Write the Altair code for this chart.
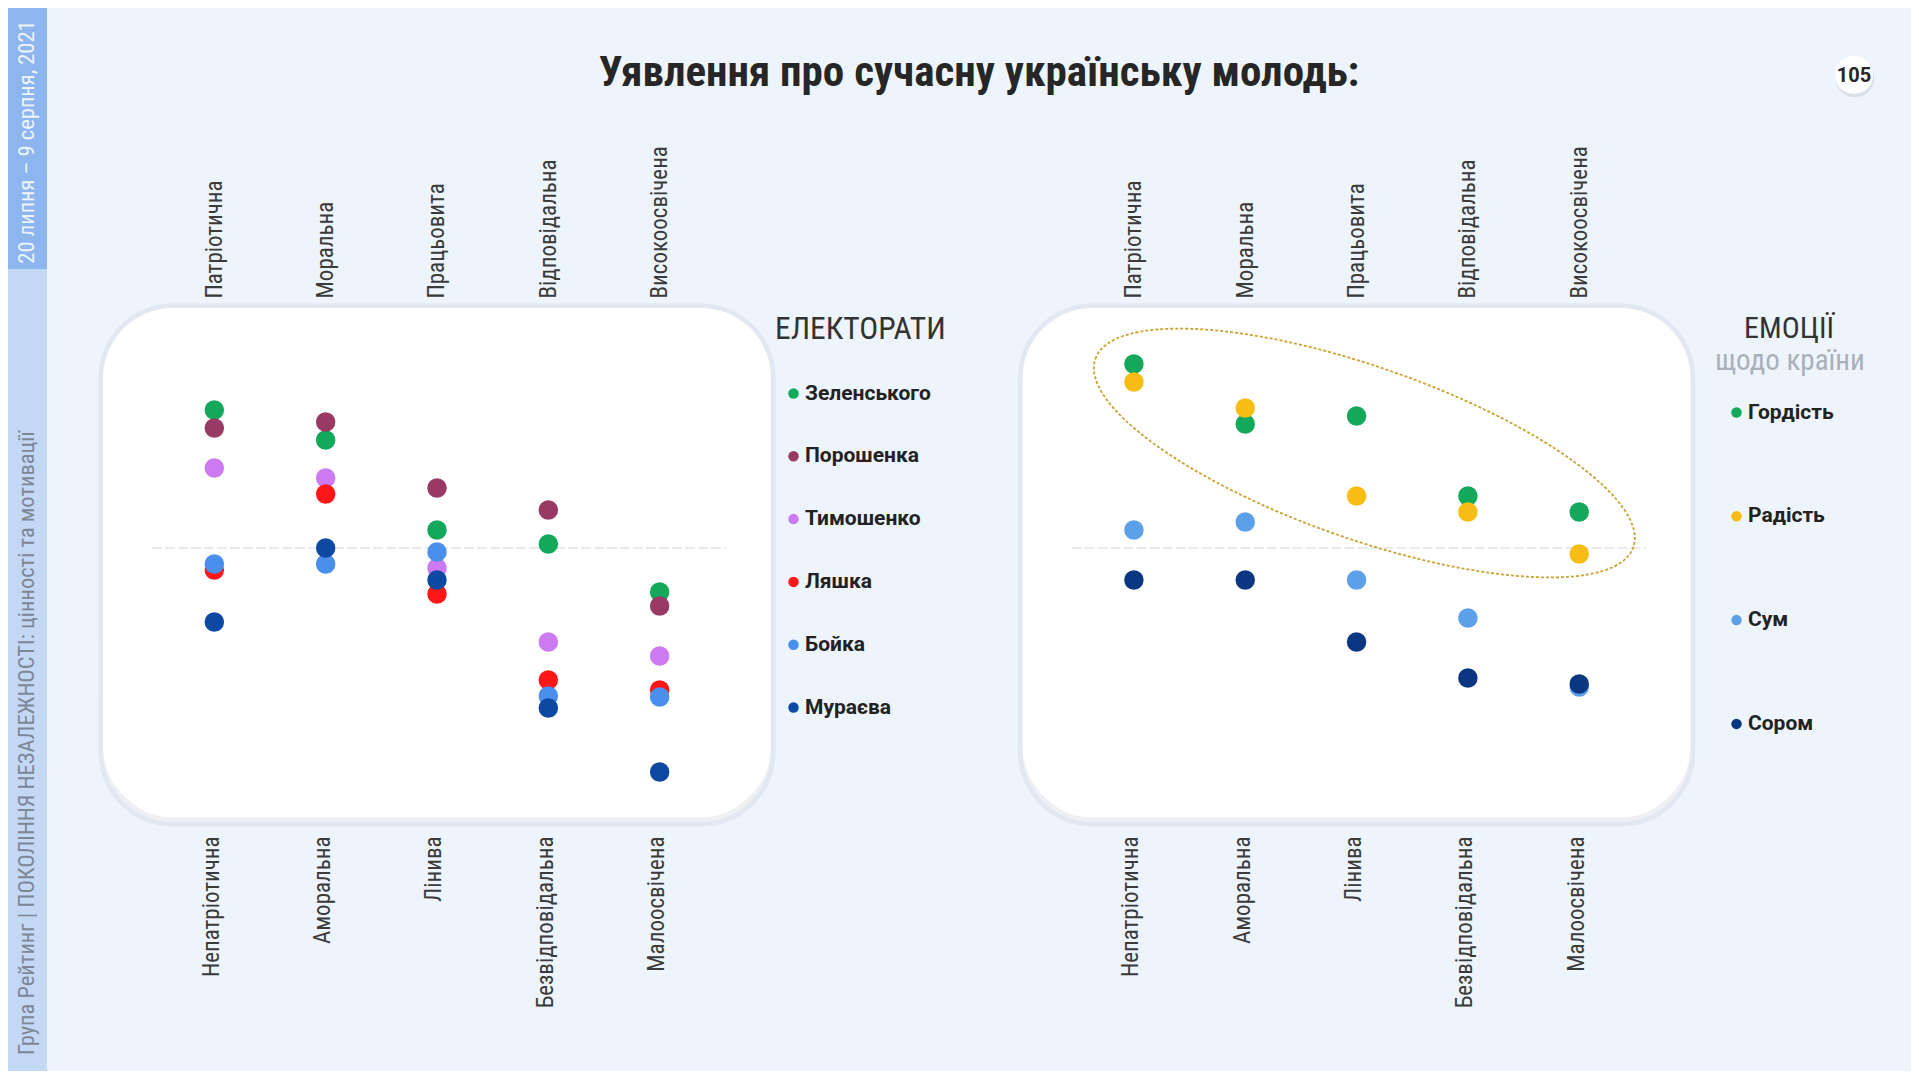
import json
import altair as alt
import pandas as pd

# ---------------- data ----------------
TRAITS_POS = ["Патріотична", "Моральна", "Працьовита", "Відповідальна", "Високоосвічена"]
TRAITS_NEG = ["Непатріотична", "Аморальна", "Лінива", "Безвідповідальна", "Малоосвічена"]

ELECTORATES = ["Зеленського", "Порошенка", "Тимошенко", "Ляшка", "Бойка", "Мураєва"]
EL_COLORS = ["#13A85A", "#993A65", "#CB7AF2", "#FF1616", "#4A8FEB", "#0D48A3"]
EL_ZELENSKY = [69, 54, 9, 2, -22]
EL_POROSHENKO = [60, 63, 30, 19, -29]
EL_TYMOSHENKO = [40, 35, -10, -47, -54]
EL_LYASHKO = [-11, 27, -23, -66, -71]
EL_BOYKO = [-8, -8, -2, -74, -74.5]
EL_MURAEV = [-37, 0, -16, -80, -112]

EMOTIONS = ["Гордість", "Радість", "Сум", "Сором"]
EM_COLORS = ["#14A85A", "#F8BD14", "#5CA0EA", "#0B3782"]
EM_PRIDE = [92, 62, 66, 26, 18]
EM_JOY = [83, 70, 26, 18, -3]
EM_SADNESS = [9, 13, -16, -35, -69.5]
EM_SHAME = [-16, -16, -47, -65, -68]

TITLE = "Уявлення про сучасну українську молодь:"
PAGE_NO = "105"
LEFT_LEGEND_TITLE = "ЕЛЕКТОРАТИ"
RIGHT_LEGEND_TITLE = "ЕМОЦІЇ"
RIGHT_LEGEND_SUB = "щодо країни"
SIDE_TOP = "20 липня – 9 серпня, 2021"
SIDE_BOTTOM = "Група Рейтинг | ПОКОЛІННЯ НЕЗАЛЕЖНОСТІ: цінності та мотивації"

# highlighted group in the right panel (ellipse around positive emotions)
ELLIPSE_CENTER = (2.07, 47.5)   # (trait index, value)
ELLIPSE_RATIO = 0.302
ELLIPSE_ANGLE = 19.3

# ---------------- layout ----------------
W, H = 1588, 508
R0 = 8.26                     # x offset of the right panel
X_DOMAIN = [-1, 13.264]
Y_DOMAIN = [-134, 120]
NARROW = "'Liberation Sans Narrow', 'Arial Narrow', 'Roboto Condensed', Roboto"
BOLD_SANS = "Roboto"
BG = "#EEF4FC"

xs = alt.Scale(domain=X_DOMAIN, nice=False, zero=False)
ys = alt.Scale(domain=Y_DOMAIN, nice=False, zero=False)

el_series = [EL_ZELENSKY, EL_POROSHENKO, EL_TYMOSHENKO, EL_LYASHKO, EL_BOYKO, EL_MURAEV]
em_series = [EM_PRIDE, EM_JOY, EM_SADNESS, EM_SHAME]

left_rows = []
for name, vals in zip(ELECTORATES, el_series):
    for i, v in enumerate(vals):
        left_rows.append({"x": i, "value": v, "series": name, "trait": TRAITS_POS[i]})
left_df = pd.DataFrame(left_rows)

right_rows = []
for name, vals in zip(EMOTIONS, em_series):
    for i, v in enumerate(vals):
        right_rows.append({"x": i + R0, "value": v, "series": name, "trait": TRAITS_POS[i]})
right_df = pd.DataFrame(right_rows)

panels_df = pd.DataFrame({
    "x0": [-1, R0 - 1], "x1": [5, R0 + 5],
    "y0": [Y_DOMAIN[0], Y_DOMAIN[0]], "y1": [Y_DOMAIN[1], Y_DOMAIN[1]],
})
rules_df = pd.DataFrame({"x0": [-0.56, R0 - 0.56], "x1": [4.6, R0 + 4.6], "y": [0, 0]})
ellipse_df = pd.DataFrame({"x": [ELLIPSE_CENTER[0] + R0], "y": [ELLIPSE_CENTER[1]]})

tick_vals = [0, 1, 2, 3, 4] + [R0 + k for k in range(5)]
idx_expr = f"(datum.value < 6 ? round(datum.value) : round(datum.value - {R0}))"
top_expr = f"{json.dumps(TRAITS_POS, ensure_ascii=False)}[{idx_expr}]"
bot_expr = f"{json.dumps(TRAITS_NEG, ensure_ascii=False)}[{idx_expr}]"

common_axis = dict(values=tick_vals, title=None, domain=False, ticks=False, tickSize=0,
                   grid=False, labelAngle=270, labelFont=NARROW, labelFontSize=23,
                   labelColor="#3A3A3A", labelOverlap=False, labelFlush=False, labelBound=False,
                   labelBaseline="middle", zindex=2)
top_axis = alt.Axis(orient="top", labelAlign="left", labelPadding=10, labelExpr=top_expr, **common_axis)
bottom_axis = alt.Axis(orient="bottom", labelAlign="right", labelPadding=20, labelOffset=-3,
                       labelExpr=bot_expr, **common_axis)

# ---------------- decorations ----------------
one = pd.DataFrame({"t": [""]})

background = alt.Chart(one).mark_rect(fill=BG).encode(
    x=alt.value(-95), x2=alt.value(1808), y=alt.value(-300), y2=alt.value(763))
side_top = alt.Chart(one).mark_rect(fill="#8DB5EE").encode(
    x=alt.value(-95), x2=alt.value(-56), y=alt.value(-300), y2=alt.value(-39))
side_bottom = alt.Chart(one).mark_rect(fill="#C3D8F5").encode(
    x=alt.value(-95), x2=alt.value(-56), y=alt.value(-39), y2=alt.value(763))
side_text1 = alt.Chart(pd.DataFrame({"t": [SIDE_TOP]})).mark_text(
    angle=270, align="center", baseline="middle", font=NARROW, fontSize=22.5, color="#EEF4FD"
).encode(x=alt.value(-76), y=alt.value(-166), text="t:N")
side_text2 = alt.Chart(pd.DataFrame({"t": [SIDE_BOTTOM]})).mark_text(
    angle=270, align="left", baseline="middle", font=NARROW, fontSize=22.5, color="#7E8796"
).encode(x=alt.value(-76), y=alt.value(747), text="t:N")

shadow = alt.Chart(panels_df).mark_rect(
    cornerRadius=70, fill="#FFFFFF", stroke="#BCC5D2", strokeWidth=9, strokeOpacity=0.25, yOffset=6
).encode(x=alt.X("x0:Q", scale=xs, axis=None), x2="x1:Q",
         y=alt.Y("y0:Q", scale=ys, axis=None), y2="y1:Q")
panels = alt.Chart(panels_df).mark_rect(cornerRadius=70, fill="#FFFFFF").encode(
    x=alt.X("x0:Q", scale=xs, axis=None), x2="x1:Q",
    y=alt.Y("y0:Q", scale=ys, axis=None), y2="y1:Q")
rules = alt.Chart(rules_df).mark_rule(color="#E4E4E4", strokeWidth=1.5, strokeDash=[10, 3]).encode(
    x=alt.X("x0:Q", scale=xs, axis=None), x2="x1:Q",
    y=alt.Y("y:Q", scale=ys, axis=None))

k = 0.5523
r = ELLIPSE_RATIO
ell_path = (f"M -1 0 C -1 {-k*r:.4f} {-k:.4f} {-r:.4f} 0 {-r:.4f} "
            f"C {k:.4f} {-r:.4f} 1 {-k*r:.4f} 1 0 "
            f"C 1 {k*r:.4f} {k:.4f} {r:.4f} 0 {r:.4f} "
            f"C {-k:.4f} {r:.4f} -1 {k*r:.4f} -1 0 Z")
ellipse = alt.Chart(ellipse_df).mark_point(
    shape=ell_path, size=570 ** 2, angle=ELLIPSE_ANGLE, filled=False,
    stroke="#C9A232", strokeWidth=1.8, strokeDash=[3, 2], opacity=1
).encode(x=alt.X("x:Q", scale=xs, axis=None), y=alt.Y("y:Q", scale=ys, axis=None))

# ---------------- data marks ----------------
legend_common = dict(orient="none", title=None, labelFont=BOLD_SANS, labelFontSize=21,
                     labelFontWeight="bold", labelColor="#222222", symbolType="circle",
                     symbolSize=110, symbolStrokeWidth=0, symbolOpacity=1, padding=0,
                     labelOffset=1)
left_pts = alt.Chart(left_df).mark_circle(size=380, opacity=1).encode(
    x=alt.X("x:Q", scale=xs, axis=top_axis),
    y=alt.Y("value:Q", scale=ys, axis=None),
    color=alt.Color("series:N", scale=alt.Scale(domain=ELECTORATES, range=EL_COLORS),
                    legend=alt.Legend(legendX=680, legendY=75, rowPadding=40.8, **legend_common)),
)
right_pts = alt.Chart(right_df).mark_circle(size=380, opacity=1).encode(
    x=alt.X("x:Q", scale=xs, axis=bottom_axis),
    y=alt.Y("value:Q", scale=ys, axis=None),
    color=alt.Color("series:N", scale=alt.Scale(domain=EMOTIONS, range=EM_COLORS),
                    legend=alt.Legend(legendX=1623, legendY=94, rowPadding=81.8, **legend_common)),
)

# ---------------- texts ----------------
title = alt.Chart(pd.DataFrame({"t": [TITLE]})).mark_text(
    font=NARROW, fontSize=43, fontWeight="bold", color="#262626", align="center", baseline="middle"
).encode(x=alt.value(876), y=alt.value(-235), text="t:N")
badge_shadow = alt.Chart(one).mark_circle(size=1500, color="#D5DCE6", opacity=0.8).encode(
    x=alt.value(1752), y=alt.value(-230))
badge = alt.Chart(one).mark_circle(size=1450, color="#FFFFFF", opacity=1).encode(
    x=alt.value(1751), y=alt.value(-233))
badge_text = alt.Chart(pd.DataFrame({"t": [PAGE_NO]})).mark_text(
    font=BOLD_SANS, fontSize=20, fontWeight="bold", color="#262626", align="center", baseline="middle"
).encode(x=alt.value(1751), y=alt.value(-232), text="t:N")
lt = alt.Chart(pd.DataFrame({"t": [LEFT_LEGEND_TITLE]})).mark_text(
    font=NARROW, fontSize=31.5, color="#333333", align="left", baseline="middle"
).encode(x=alt.value(672), y=alt.value(22), text="t:N")
rt = alt.Chart(pd.DataFrame({"t": [RIGHT_LEGEND_TITLE]})).mark_text(
    font=NARROW, fontSize=30, color="#333333", align="center", baseline="middle"
).encode(x=alt.value(1686), y=alt.value(21), text="t:N")
rs = alt.Chart(pd.DataFrame({"t": [RIGHT_LEGEND_SUB]})).mark_text(
    font=NARROW, fontSize=29, color="#A9B0BB", align="center", baseline="middle"
).encode(x=alt.value(1687), y=alt.value(53), text="t:N")

chart = alt.layer(
    background, side_top, side_bottom, side_text1, side_text2,
    shadow, panels, rules, ellipse, left_pts, right_pts,
    title, badge_shadow, badge, badge_text, lt, rt, rs,
).resolve_scale(color="independent").resolve_axis(x="independent").properties(
    width=W, height=H, padding=0
).configure(background=BG).configure_view(stroke=None)

chart.save("out.html", embed_options={"renderer": "svg", "actions": False})
